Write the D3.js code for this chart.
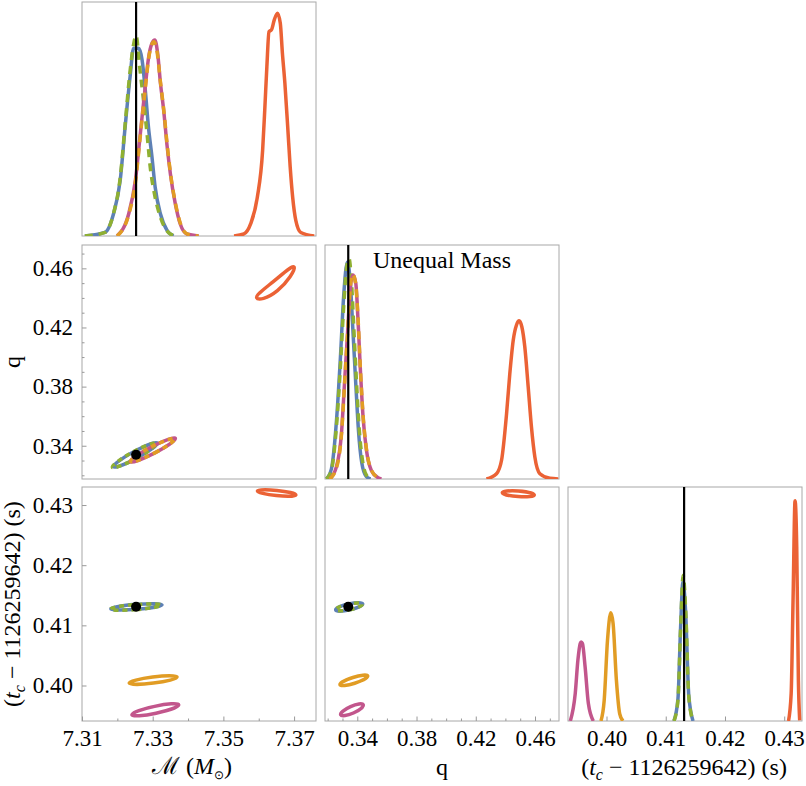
<!DOCTYPE html>
<html>
<head>
<meta charset="utf-8">
<script src="https://cdn.jsdelivr.net/npm/d3@7"></script>
<style>
  body { margin: 0; background: #fff; }
  text { font-family: "Liberation Serif", "Times New Roman", serif; fill: #000; }
</style>
</head>
<body>
<svg id="chart" width="806" height="786"></svg>
<script>
// series order: blue, green, pink, orange, red
const seriesColors = ['#5e81b5', '#8fb032', '#c2568c', '#e19c24', '#eb6235'];

// injected values (black lines / dots)
const trueMass = 7.3253, trueQ = 0.3339, trueTc = 0.4131;

// marginal densities, chirp mass (relative height)
const massBlue = [[7.3108,0],[7.3165,0.016],[7.3189,0.099],[7.3208,0.249],[7.3222,0.489],[7.3236,0.714],[7.3246,0.842],[7.3260,0.842],[7.3270,0.790],[7.3279,0.655],[7.3288,0.489],[7.3298,0.354],[7.3307,0.219],[7.3322,0.099],[7.3341,0.024],[7.3359,0]];
const massGreen = [[7.3108,0],[7.3165,0.016],[7.3189,0.10],[7.3208,0.26],[7.3222,0.50],[7.3236,0.74],[7.3246,0.86],[7.3253,0.90],[7.3263,0.76],[7.3274,0.609],[7.3284,0.459],[7.3293,0.309],[7.3305,0.189],[7.3322,0.084],[7.3350,0.009],[7.3369,0]];
const massPink = [[7.3199,0],[7.3232,0.099],[7.3251,0.249],[7.3265,0.459],[7.3279,0.670],[7.3288,0.797],[7.3298,0.865],[7.3306,0.880],[7.3314,0.820],[7.3322,0.685],[7.3331,0.565],[7.3341,0.400],[7.3350,0.279],[7.3364,0.144],[7.3378,0.054],[7.3397,0.009],[7.3430,0]];
const massOrange = [[7.3199,0],[7.3232,0.095],[7.3251,0.24],[7.3265,0.45],[7.3279,0.66],[7.3288,0.79],[7.3298,0.862],[7.3303,0.872],[7.3312,0.83],[7.3322,0.69],[7.3331,0.57],[7.3341,0.41],[7.3350,0.285],[7.3364,0.15],[7.3378,0.058],[7.3397,0.01],[7.3430,0]];
const massRed = [[7.3530,0],[7.3558,0.009],[7.3577,0.054],[7.3596,0.174],[7.3611,0.384],[7.3617,0.565],[7.3623,0.760],[7.3629,0.917],[7.3636,0.925],[7.3644,0.970],[7.3653,1.0],[7.3661,0.955],[7.3667,0.820],[7.3674,0.685],[7.3682,0.489],[7.3689,0.309],[7.3696,0.174],[7.3705,0.069],[7.3719,0.016],[7.3757,0]];

// marginal densities, mass ratio q
const qBlue = [[0.3191,0],[0.3225,0.045],[0.3259,0.26],[0.3286,0.55],[0.3308,0.83],[0.3333,0.985],[0.3352,0.90],[0.3370,0.68],[0.3390,0.43],[0.3408,0.22],[0.3430,0.075],[0.3460,0.012],[0.3490,0]];
const qGreen = [[0.3191,0],[0.3225,0.039],[0.3259,0.236],[0.3286,0.509],[0.3308,0.782],[0.3326,0.949],[0.3344,1.0],[0.3360,0.903],[0.3376,0.691],[0.3394,0.449],[0.3412,0.236],[0.3435,0.085],[0.3462,0.017],[0.3495,0]];
const qPink = [[0.3214,0],[0.3259,0.055],[0.3293,0.206],[0.3315,0.449],[0.3338,0.706],[0.3353,0.873],[0.3371,0.926],[0.3390,0.888],[0.3405,0.721],[0.3421,0.494],[0.3439,0.282],[0.3462,0.130],[0.3495,0.039],[0.3540,0.006],[0.3563,0]];
const qOrange = [[0.3214,0],[0.3259,0.05],[0.3293,0.20],[0.3315,0.44],[0.3338,0.70],[0.3353,0.87],[0.3369,0.93],[0.3388,0.89],[0.3405,0.73],[0.3421,0.50],[0.3439,0.29],[0.3462,0.135],[0.3495,0.04],[0.3540,0.006],[0.3563,0]];
const qRed = [[0.4272,0],[0.4340,0.024],[0.4374,0.085],[0.4408,0.297],[0.4430,0.479],[0.4453,0.630],[0.4475,0.699],[0.4493,0.718],[0.4511,0.691],[0.4531,0.600],[0.4554,0.418],[0.4576,0.236],[0.4599,0.100],[0.4633,0.024],[0.4700,0.003],[0.4757,0]];

// marginal densities, coalescence time
const tcBlue = [[0.41139,0],[0.41206,0.10],[0.41250,0.42],[0.41290,0.63],[0.41335,0.50],[0.41389,0.115],[0.41461,0]];
const tcGreen = [[0.41139,0],[0.41206,0.094],[0.41250,0.412],[0.41294,0.662],[0.41339,0.488],[0.41389,0.109],[0.41461,0]];
const tcPink = [[0.39389,0],[0.39472,0.124],[0.39517,0.276],[0.39556,0.352],[0.39572,0.359],[0.39594,0.352],[0.39639,0.245],[0.39694,0.079],[0.39778,0]];
const tcOrange = [[0.39906,0],[0.39961,0.094],[0.40017,0.367],[0.40072,0.491],[0.40111,0.443],[0.40167,0.185],[0.40222,0.034],[0.40278,0]];
const tcRed = [[0.43072,0],[0.43117,0.124],[0.43150,0.564],[0.43183,1.0],[0.43211,0.791],[0.43239,0.185],[0.43261,0.003]];

// 2D contours: tip, side, tip, side
const mqBlue = [[7.31889,0.32578],[7.32560,0.33174],[7.33131,0.34183],[7.32463,0.33594]];
const mqGreen = [[7.31860,0.32540],[7.32540,0.33150],[7.33100,0.34150],[7.32440,0.33580]];
const mqPink = [[7.32364,0.32917],[7.33048,0.33499],[7.33642,0.34501],[7.32957,0.33919]];
const mqOrange = [[7.32380,0.32940],[7.33060,0.33520],[7.33620,0.34470],[7.32940,0.33900]];
const mqRed = [[7.35943,0.44005],[7.36528,0.44491],[7.37003,0.46078],[7.36420,0.45122]];

const mtBlue = [[7.31815,0.41274],[7.32545,0.41266],[7.33264,0.41341],[7.32534,0.41349]];
const mtGreen = [[7.31800,0.41270],[7.32530,0.41262],[7.33240,0.41336],[7.32520,0.41345]];
const mtPink = [[7.32412,0.39513],[7.33094,0.39540],[7.33736,0.39679],[7.33054,0.39653]];
const mtOrange = [[7.32335,0.40040],[7.33023,0.40040],[7.33690,0.40140],[7.33000,0.40140]];
const mtRed = [[7.35963,0.43234],[7.36497,0.43159],[7.37051,0.43168],[7.36514,0.43243]];

const qtBlue = [[0.32542,0.41257],[0.33487,0.41257],[0.34365,0.41357],[0.33419,0.41357]];
const qtGreen = [[0.32560,0.41262],[0.33480,0.41260],[0.34340,0.41352],[0.33420,0.41354]];
const qtPink = [[0.32879,0.39513],[0.33737,0.39543],[0.34405,0.39679],[0.33548,0.39650]];
const qtOrange = [[0.32832,0.40012],[0.33824,0.40038],[0.34702,0.40161],[0.33703,0.40133]];
const qtRed = [[0.43791,0.43206],[0.44871,0.43141],[0.45951,0.43168],[0.44871,0.43234]];

// ticks
const massTicks = [7.31, 7.33, 7.35, 7.37], massMinor = [7.32, 7.34, 7.36];
const qTicks = [0.34, 0.38, 0.42, 0.46], qMinor = [0.32, 0.33, 0.35, 0.36, 0.37, 0.39, 0.40, 0.41, 0.43, 0.44, 0.45, 0.47];
const tcTicks = [0.40, 0.41, 0.42, 0.43];

const serif = '"Liberation Serif", "Times New Roman", serif';
const svg = d3.select('#chart');
const size = 234;
const colX = [82, 325, 568], rowY = [2, 245, 487];

svg.append('defs').append('clipPath').attr('id', 'clip')
  .append('rect').attr('width', size).attr('height', size);

const xMass = d3.scaleLinear().domain([7.31, 7.3762]).range([0, size]);
const xQ = d3.scaleLinear().domain([0.3182, 0.4762]).range([0, size]);
const xTc = d3.scaleLinear().domain([0.3935, 0.4330]).range([0, size]);
const yQ = d3.scaleLinear().domain([0.3175, 0.4758]).range([size, 0]);
const yTc = d3.scaleLinear().domain([0.3941, 0.4330]).range([size, 0]);
const yDensTop = d3.scaleLinear().domain([0, 1.05]).range([size, 0]);
const yDens = d3.scaleLinear().domain([0, 1.062]).range([size, 0]);

function makePanel(col, row) {
  const g = svg.append('g').attr('transform', 'translate(' + colX[col] + ',' + rowY[row] + ')');
  g.append('rect').attr('width', size).attr('height', size)
    .attr('fill', 'none').attr('stroke', '#a8a8a8').attr('stroke-width', 1);
  const inner = g.append('g').attr('clip-path', 'url(#clip)');
  return { g: g, inner: inner };
}

function dashFor(i, overlap) {
  if (i == 1) return '8,6';
  if (i == 3 && overlap) return '8,6';
  return null;
}

function drawDensities(p, x, y, curves, overlap) {
  const line = d3.line().x(d => x(d[0])).y(d => y(d[1])).curve(d3.curveMonotoneX);
  curves.forEach((pts, i) => {
    p.inner.append('path').datum(pts)
      .attr('d', line)
      .attr('fill', 'none')
      .attr('stroke', seriesColors[i])
      .attr('stroke-width', 3.5)
      .attr('stroke-linejoin', 'round')
      .attr('stroke-dasharray', dashFor(i, overlap));
  });
}

function drawContours(p, x, y, shapes, overlap) {
  const line = d3.line().x(d => x(d[0])).y(d => y(d[1])).curve(d3.curveCardinalClosed.tension(-0.65));
  shapes.forEach((pts, i) => {
    p.inner.append('path').datum(pts)
      .attr('d', line)
      .attr('fill', 'none')
      .attr('stroke', seriesColors[i])
      .attr('stroke-width', 3.5)
      .attr('stroke-dasharray', dashFor(i, overlap) ? '5,4' : null);
  });
}

function truthLine(p, x, v) {
  p.inner.append('line')
    .attr('x1', x(v)).attr('x2', x(v)).attr('y1', 0).attr('y2', size)
    .attr('stroke', '#000').attr('stroke-width', 2.2);
}

function truthDot(p, x, y, vx, vy) {
  p.inner.append('circle').attr('cx', x(vx)).attr('cy', y(vy)).attr('r', 5).attr('fill', '#000');
}

function styleAxis(a) {
  a.attr('font-family', null);
  a.select('.domain').remove();
  a.selectAll('line').attr('stroke', '#999');
  a.selectAll('text').style('font-family', serif).style('font-size', '23px').attr('fill', '#000');
}

function leftAxis(p, y, major, minor, fmt) {
  if (minor) {
    p.g.append('g').call(d3.axisLeft(y).tickValues(minor).tickSize(-2.5).tickFormat('')).call(styleAxis);
  }
  p.g.append('g').call(d3.axisLeft(y).tickValues(major).tickSize(-4.5).tickPadding(9).tickFormat(fmt)).call(styleAxis);
}

function bottomAxis(p, x, major, minor, fmt) {
  if (minor) {
    p.g.append('g').attr('transform', 'translate(0,' + size + ')')
      .call(d3.axisBottom(x).tickValues(minor).tickSize(-2.5).tickFormat('')).call(styleAxis);
  }
  p.g.append('g').attr('transform', 'translate(0,' + size + ')')
    .call(d3.axisBottom(x).tickValues(major).tickSize(-4.5).tickPadding(9).tickFormat(fmt)).call(styleAxis);
}

const f2 = d3.format('.2f');

// row 0: chirp mass marginal
const pMass = makePanel(0, 0);
drawDensities(pMass, xMass, yDensTop, [massBlue, massGreen, massPink, massOrange, massRed], true);
truthLine(pMass, xMass, trueMass);

// row 1: q vs mass, q marginal
const pMq = makePanel(0, 1);
drawContours(pMq, xMass, yQ, [mqBlue, mqGreen, mqPink, mqOrange, mqRed], true);
truthDot(pMq, xMass, yQ, trueMass, trueQ);
leftAxis(pMq, yQ, qTicks, qMinor, f2);

const pQ = makePanel(1, 1);
drawDensities(pQ, xQ, yDens, [qBlue, qGreen, qPink, qOrange, qRed], true);
truthLine(pQ, xQ, trueQ);
pQ.g.append('text').attr('x', 117).attr('y', 23).attr('text-anchor', 'middle')
  .attr('font-size', 24).text('Unequal Mass');

// row 2: tc vs mass, tc vs q, tc marginal
const pMt = makePanel(0, 2);
drawContours(pMt, xMass, yTc, [mtBlue, mtGreen, mtPink, mtOrange, mtRed], false);
truthDot(pMt, xMass, yTc, trueMass, trueTc);
leftAxis(pMt, yTc, tcTicks, null, f2);
bottomAxis(pMt, xMass, massTicks, massMinor, f2);

const pQt = makePanel(1, 2);
drawContours(pQt, xQ, yTc, [qtBlue, qtGreen, qtPink, qtOrange, qtRed], false);
truthDot(pQt, xQ, yTc, trueQ, trueTc);
bottomAxis(pQt, xQ, qTicks, qMinor, f2);

const pTc = makePanel(2, 2);
drawDensities(pTc, xTc, yDens, [tcBlue, tcGreen, tcPink, tcOrange, tcRed], false);
truthLine(pTc, xTc, trueTc);
bottomAxis(pTc, xTc, tcTicks, null, f2);

// axis titles
function tcTitle(t) {
  t.append('tspan').text('(');
  t.append('tspan').attr('font-style', 'italic').text('t');
  t.append('tspan').attr('font-style', 'italic').attr('font-size', 16).attr('dy', 5).text('c');
  t.append('tspan').attr('dy', -5).text(' \u2212 1126259642) (s)');
}

svg.append('text').attr('transform', 'translate(20,362) rotate(-90)')
  .attr('text-anchor', 'middle').attr('font-size', 24).text('q');

svg.append('text').attr('transform', 'translate(20,604) rotate(-90)')
  .attr('text-anchor', 'middle').attr('font-size', 24).call(tcTitle);

const mTitle = svg.append('text').attr('x', 192).attr('y', 774)
  .attr('text-anchor', 'middle').attr('font-size', 24);
mTitle.append('tspan').text('\u2133 (');
mTitle.append('tspan').attr('font-style', 'italic').text('M');
mTitle.append('tspan').attr('font-size', 12).attr('dy', 5).text('\u2299');
mTitle.append('tspan').attr('dy', -5).text(')');

svg.append('text').attr('x', 442).attr('y', 775)
  .attr('text-anchor', 'middle').attr('font-size', 24).text('q');

svg.append('text').attr('x', 684).attr('y', 775)
  .attr('text-anchor', 'middle').attr('font-size', 24).call(tcTitle);
</script>
</body>
</html>
